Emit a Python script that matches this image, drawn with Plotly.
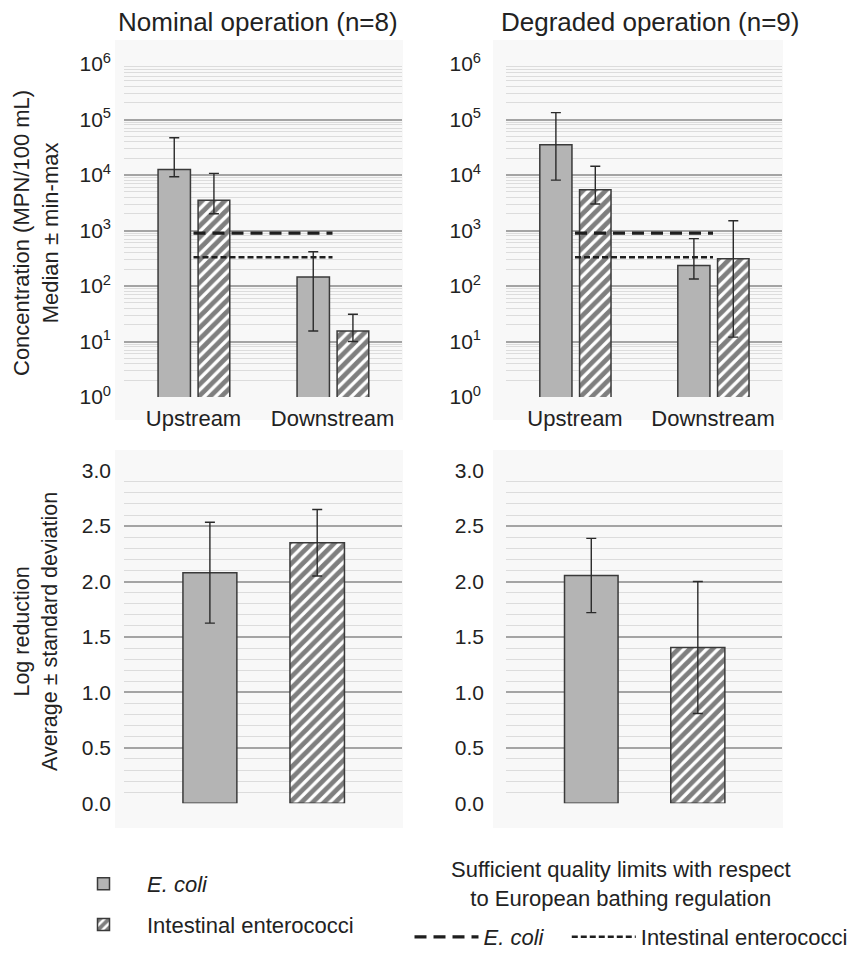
import plotly.graph_objects as go

# ---------------- data ----------------
sites = ["Upstream", "Downstream"]

# Nominal operation (n=8) - concentration, MPN/100 mL (median, min, max)
nom_ecoli_median = [12600, 145]
nom_ecoli_min = [9300, 15.5]
nom_ecoli_max = [47000, 415]
nom_ente_median = [3500, 15.5]
nom_ente_min = [2000, 10]
nom_ente_max = [10700, 31]

# Degraded operation (n=9)
deg_ecoli_median = [35000, 233]
deg_ecoli_min = [8100, 134]
deg_ecoli_max = [133000, 715]
deg_ente_median = [5400, 310]
deg_ente_min = [3000, 12]
deg_ente_max = [14400, 1500]

# Sufficient quality limits (European bathing regulation)
limit_ecoli = [900, 900]
limit_ente = [330, 330]

# Log reduction (average, standard deviation)
lr_category = ["Log reduction"]
nom_lr_ecoli_mean = [2.08]
nom_lr_ecoli_sd = [0.455]
nom_lr_ente_mean = [2.35]
nom_lr_ente_sd = [0.30]
deg_lr_ecoli_mean = [2.055]
deg_lr_ecoli_sd = [0.335]
deg_lr_ente_mean = [1.405]
deg_lr_ente_sd = [0.595]

conc_tickvals = [1, 10, 100, 1000, 10000, 100000, 1000000]
conc_ticktext = ["10<sup>0</sup>", "10<sup>1</sup>", "10<sup>2</sup>", "10<sup>3</sup>",
                 "10<sup>4</sup>", "10<sup>5</sup>", "10<sup>6</sup>"]
lr_tickvals = [0, 0.5, 1.0, 1.5, 2.0, 2.5, 3.0]
lr_ticktext = ["0.0", "0.5", "1.0", "1.5", "2.0", "2.5", "3.0"]

panel_titles = ["Nominal operation (n=8)", "Degraded operation (n=9)"]

# ---------------- styling ----------------
W, H = 859, 953
OFF = 8  # page body margin
FONT = "Liberation Sans, Arial, Helvetica, sans-serif"
TXT = "#222222"
GRAY_FILL = "#b4b4b4"
EDGE = "#3a3a3a"
ERR = dict(color="#2a2a2a", thickness=1.4, width=5)
NB = "\u00a0"


def px_x(v):
    return (v - OFF) / W


def px_y(v):
    return 1 - (v - OFF) / H


def ecoli_marker():
    return dict(color=GRAY_FILL, line=dict(color=EDGE, width=1.5))


def ente_marker():
    return dict(color="white", line=dict(color=EDGE, width=1.5),
                pattern=dict(shape="/", fgcolor="#000000", bgcolor="white",
                             size=8, solidity=0.6))


fig = go.Figure()

conc_sets = [
    ("x", "y", nom_ecoli_median, nom_ecoli_min, nom_ecoli_max,
     nom_ente_median, nom_ente_min, nom_ente_max, True),
    ("x2", "y2", deg_ecoli_median, deg_ecoli_min, deg_ecoli_max,
     deg_ente_median, deg_ente_min, deg_ente_max, False),
]
for xa, ya, em, emin, emax, nm, nmin, nmax, show in conc_sets:
    fig.add_trace(go.Bar(
        x=sites, y=em, xaxis=xa, yaxis=ya, name="<i>E. coli</i>",
        marker=ecoli_marker(), width=0.233, offset=-0.255,
        error_y=dict(type="data", symmetric=False,
                     array=[a - b for a, b in zip(emax, em)],
                     arrayminus=[b - a for a, b in zip(emin, em)], **ERR),
        legend="legend", legendgroup="ecoli", showlegend=show))
    fig.add_trace(go.Bar(
        x=sites, y=nm, xaxis=xa, yaxis=ya, name="Intestinal enterococci",
        marker=ente_marker(), width=0.228, offset=0.033,
        error_y=dict(type="data", symmetric=False,
                     array=[a - b for a, b in zip(nmax, nm)],
                     arrayminus=[b - a for a, b in zip(nmin, nm)], **ERR),
        legend="legend", legendgroup="ente", showlegend=show))
    fig.add_trace(go.Scatter(
        x=sites, y=limit_ecoli, xaxis=xa, yaxis=ya, mode="lines",
        name="<i>E. coli</i>" + NB * 3,
        line=dict(color="#1e1e1e", width=3.2, dash="12px,7px"),
        legend="legend2", showlegend=show))
    fig.add_trace(go.Scatter(
        x=sites, y=limit_ente, xaxis=xa, yaxis=ya, mode="lines",
        name="Intestinal enterococci", line=dict(color="#1e1e1e", width=2.6, dash="6px,3px"),
        legend="legend2", showlegend=show))

lr_sets = [
    ("x3", "y3", nom_lr_ecoli_mean, nom_lr_ecoli_sd, nom_lr_ente_mean, nom_lr_ente_sd),
    ("x4", "y4", deg_lr_ecoli_mean, deg_lr_ecoli_sd, deg_lr_ente_mean, deg_lr_ente_sd),
]
for xa, ya, em, esd, nm, nsd in lr_sets:
    fig.add_trace(go.Bar(
        x=lr_category, y=em, xaxis=xa, yaxis=ya, name="<i>E. coli</i>",
        marker=ecoli_marker(), width=0.194, offset=-0.288,
        error_y=dict(type="data", array=esd, **ERR), showlegend=False))
    fig.add_trace(go.Bar(
        x=lr_category, y=nm, xaxis=xa, yaxis=ya, name="Intestinal enterococci",
        marker=ente_marker(), width=0.196, offset=0.097,
        error_y=dict(type="data", array=nsd, **ERR), showlegend=False))

# ---------------- axes ----------------
xdom_left = [px_x(124), px_x(402)]
xdom_right = [px_x(506), px_x(782)]
ydom_top = [px_y(397), px_y(64)]
ydom_bot = [px_y(803.3), px_y(470.7)]

MAJOR = "#a4a4a4"
MINOR = "#dcdcdc"


def xax(dom, anchor, rng, showlabels):
    return dict(domain=dom, anchor=anchor, range=rng, showgrid=False, zeroline=False,
                showline=False, ticks="", showticklabels=showlabels,
                tickfont=dict(size=22, color=TXT, family=FONT), ticklabelstandoff=6,
                fixedrange=True)


def yax_log(dom, anchor, standoff):
    return dict(domain=dom, anchor=anchor, type="log", range=[0, 6],
                tickvals=conc_tickvals, ticktext=conc_ticktext,
                showgrid=True, gridcolor=MAJOR, gridwidth=1.8,
                minor=dict(dtick="D1", showgrid=True, gridcolor=MINOR, gridwidth=1, ticks=""),
                zeroline=False, showline=False, ticks="",
                tickfont=dict(size=21, color=TXT, family=FONT), ticklabelstandoff=standoff)


def yax_lin(dom, anchor, standoff):
    return dict(domain=dom, anchor=anchor, range=[0, 3.0],
                tickvals=lr_tickvals, ticktext=lr_ticktext,
                showgrid=True, gridcolor=MAJOR, gridwidth=1.8,
                minor=dict(dtick=0.1, showgrid=True, gridcolor=MINOR, gridwidth=1, ticks=""),
                zeroline=False, showline=False, ticks="",
                tickfont=dict(size=21, color=TXT, family=FONT), ticklabelstandoff=standoff)


fig.update_layout(
    xaxis=xax(xdom_left, "y", [-0.5, 1.5], True),
    yaxis=yax_log(ydom_top, "x", 12),
    xaxis2=xax(xdom_right, "y2", [-0.5, 1.5], True),
    yaxis2=yax_log(ydom_top, "x2", 24),
    xaxis3=xax(xdom_left, "y3", [-0.5, 0.5], False),
    yaxis3=yax_lin(ydom_bot, "x3", 12),
    xaxis4=xax(xdom_right, "y4", [-0.5, 0.5], False),
    yaxis4=yax_lin(ydom_bot, "x4", 21),
)

# panel backgrounds
bg = "#f8f8f8"
shapes = []
for x0, x1, y0, y1 in [(115, 403, 40, 420), (493, 783, 40, 420),
                       (115, 403, 450, 828), (493, 783, 450, 828)]:
    shapes.append(dict(type="rect", xref="paper", yref="paper", layer="below",
                       x0=px_x(x0), x1=px_x(x1), y0=px_y(y1), y1=px_y(y0),
                       fillcolor=bg, line=dict(width=0)))


def ann(text, x, y, size, angle=0):
    return dict(text=text, x=px_x(x), y=px_y(y), xref="paper", yref="paper",
                xanchor="center", yanchor="middle", align="center", textangle=angle,
                showarrow=False, font=dict(size=size, color=TXT, family=FONT))


annotations = [
    ann(panel_titles[0], 258, 22, 26),
    ann(panel_titles[1], 650, 22, 26),
    ann("Concentration (MPN/100 mL)<br>Median ± min-max", 36, 233, 22, -90),
    ann("Log reduction<br>Average ± standard deviation", 36, 632, 21.5, -90),
    ann("Sufficient quality limits with respect<br>to European bathing regulation", 621, 884, 22),
]

fig.update_layout(
    width=W, height=H,
    margin=dict(l=0, r=0, t=0, b=0, autoexpand=False),
    paper_bgcolor="white", plot_bgcolor="rgba(0,0,0,0)",
    font=dict(family=FONT, color=TXT),
    shapes=shapes, annotations=annotations,
    showlegend=True,
    legend=dict(x=px_x(60), xanchor="left", y=px_y(863), yanchor="top",
                orientation="v", font=dict(size=22, color=TXT, family=FONT),
                itemwidth=77,
                bgcolor="rgba(0,0,0,0)", tracegroupgap=9, itemclick=False),
    legend2=dict(x=px_x(631), xanchor="center", y=px_y(916), yanchor="top",
                 orientation="h", font=dict(size=22, color=TXT, family=FONT),
                 itemwidth=64, bgcolor="rgba(0,0,0,0)"),
)

fig.write_html("out.html")
